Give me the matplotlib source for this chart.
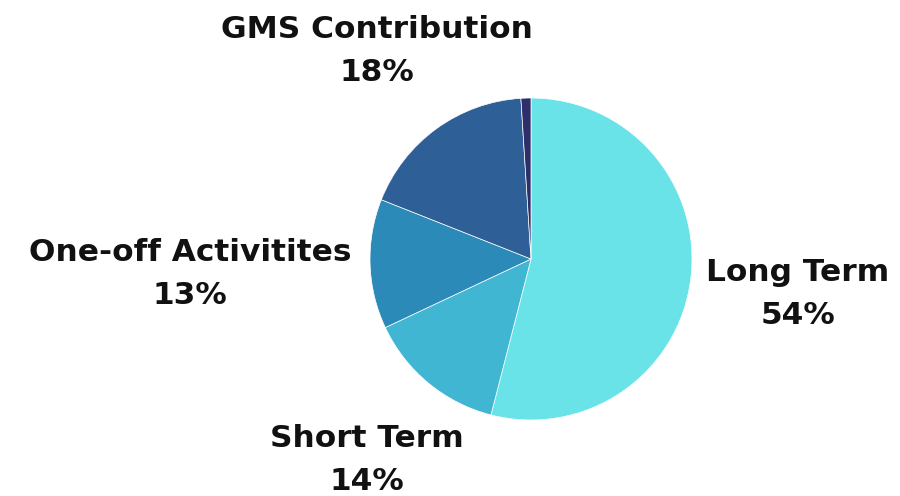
import matplotlib
matplotlib.use("Agg")
import matplotlib.pyplot as plt

labels = ["Long Term", "Short Term", "One-off Activitites", "GMS Contribution", "Other"]
shares = [54, 14, 13, 18, 1]
colors = ["#6ae3e8", "#41b6d3", "#2b8ab8", "#2e5f96", "#2e2e6a"]

# label positions in pixels (figure is 900x496, y from bottom)
label_pos = {
    "Long Term": (798, 202),
    "Short Term": (367, 36),
    "One-off Activitites": (190, 222),
    "GMS Contribution": (377, 445),
}

fig = plt.figure(figsize=(9, 4.96), dpi=100)
ax = fig.add_axes([0, 0, 1, 1])

ax.pie(shares, colors=colors, startangle=90, counterclock=False,
       radius=161, center=(531, 237), frame=True,
       wedgeprops=dict(linewidth=0.5, edgecolor="white"))
ax.set_xlim(0, 900)
ax.set_ylim(0, 496)
ax.set_aspect("equal")
ax.axis("off")

for name, val in zip(labels, shares):
    if name not in label_pos:
        continue
    x, y = label_pos[name]
    ax.text(x, y, f"{name}\n{val}%", ha="center", va="center",
            fontsize=22.5, fontweight="bold", family="DejaVu Sans",
            linespacing=1.58, color="#111111")

fig.savefig("out.png", dpi=100)
